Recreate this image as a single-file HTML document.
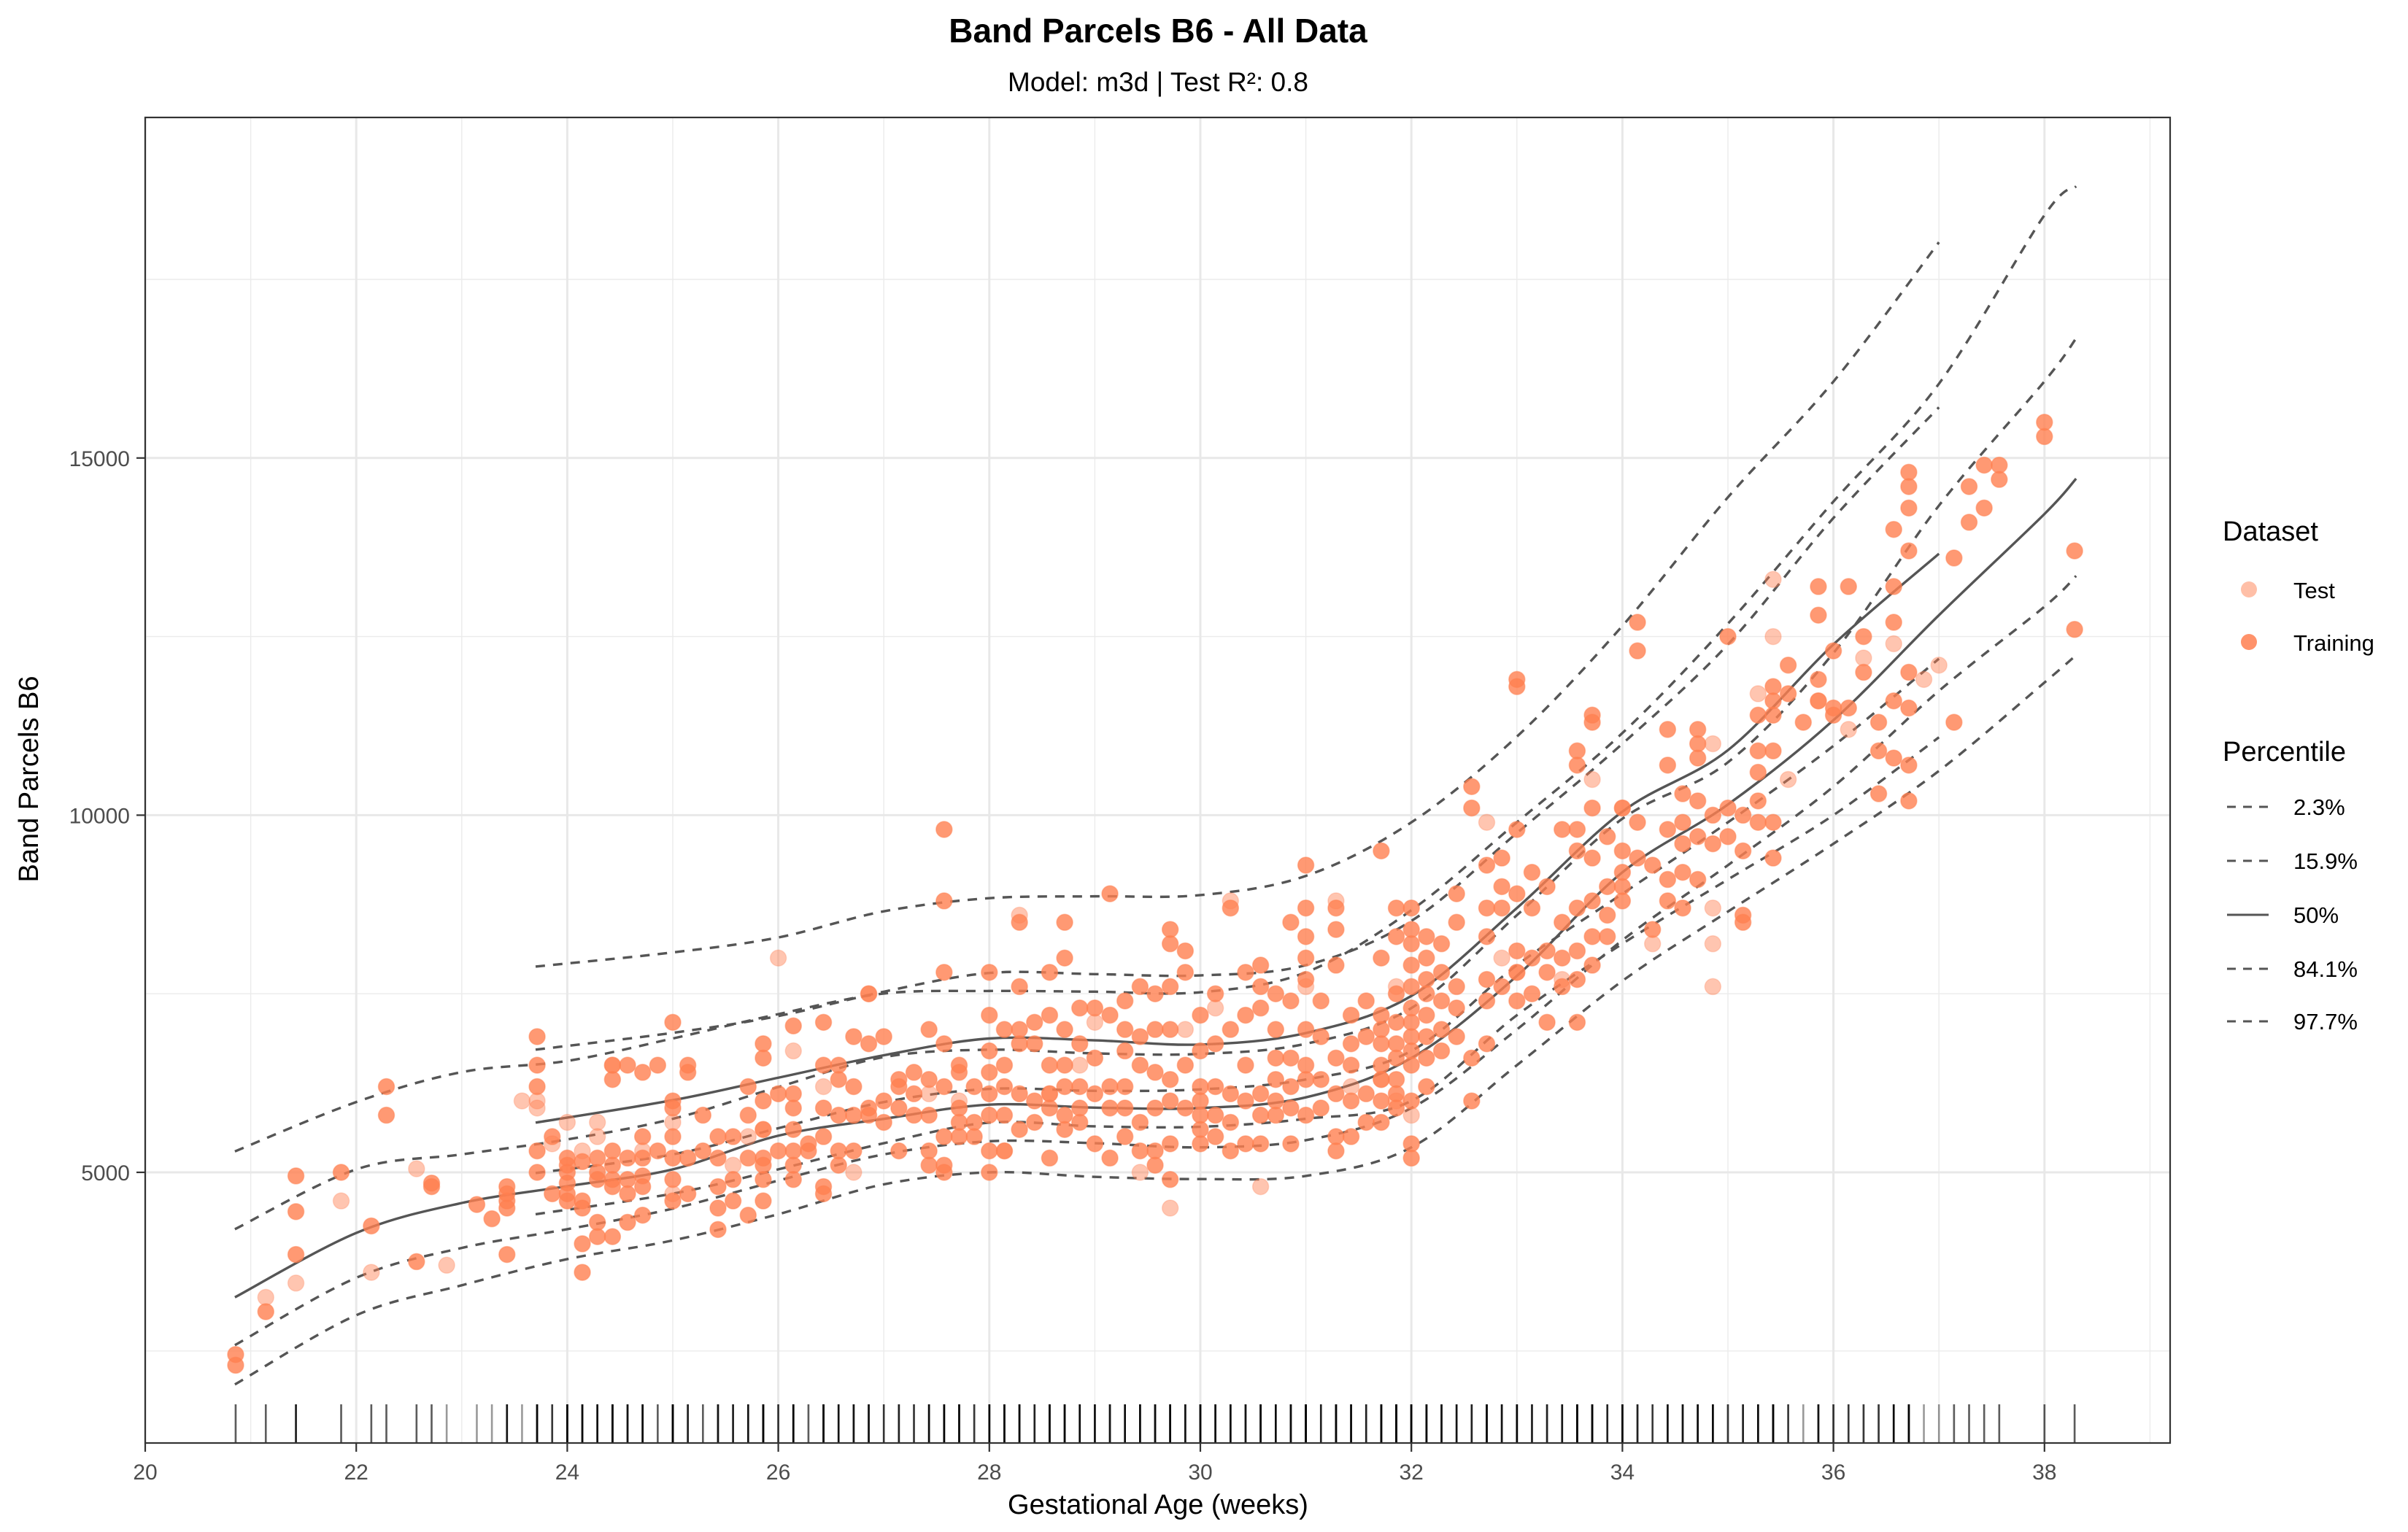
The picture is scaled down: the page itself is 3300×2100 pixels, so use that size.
<!DOCTYPE html>
<html><head><meta charset="utf-8"><style>
html,body{margin:0;padding:0;background:#fff;}
svg{display:block;font-family:"Liberation Sans",sans-serif;}
</style></head><body>
<svg id="chart" width="3300" height="2100" viewBox="0 0 3300 2100" xmlns="http://www.w3.org/2000/svg">
<rect width="3300" height="2100" fill="#fff"/>
<text x="1587" y="58" text-anchor="middle" font-size="46" font-weight="bold" fill="#000">Band Parcels B6 - All Data</text>
<text x="1587" y="125" text-anchor="middle" font-size="37" fill="#000">Model: m3d | Test R²: 0.8</text>
<g id="grid"></g>
<g id="curves"></g>
<g id="points"></g>
<g id="rug"></g>
<rect x="199" y="161" width="2775" height="1817" fill="none" stroke="#333" stroke-width="2.2"/>
<g id="axes"></g>
<text x="1587" y="2075" text-anchor="middle" font-size="38" fill="#000">Gestational Age (weeks)</text>
<text transform="translate(52,1068) rotate(-90)" text-anchor="middle" font-size="38" fill="#000">Band Parcels B6</text>
<g>
<text x="3046" y="741" font-size="38" fill="#000">Dataset</text>
<g><circle cx="3082" cy="808" r="11" fill="#FF7F50" fill-opacity="0.5"/><text x="3143" y="820" font-size="31" fill="#000">Test</text></g>
<g><circle cx="3082" cy="880" r="11" fill="#FF7F50" fill-opacity="0.85"/><text x="3143" y="892" font-size="31" fill="#000">Training</text></g>
<text x="3046" y="1043" font-size="38" fill="#000">Percentile</text>
<g><line x1="3052" x2="3109" y1="1106" y2="1106" stroke="#555" stroke-width="3" stroke-dasharray="12 10"/><text x="3143" y="1117" font-size="31">2.3%</text></g>
<g><line x1="3052" x2="3109" y1="1180" y2="1180" stroke="#555" stroke-width="3" stroke-dasharray="12 10"/><text x="3143" y="1191" font-size="31">15.9%</text></g>
<g><line x1="3052" x2="3109" y1="1254" y2="1254" stroke="#555" stroke-width="3"/><text x="3143" y="1265" font-size="31">50%</text></g>
<g><line x1="3052" x2="3109" y1="1328" y2="1328" stroke="#555" stroke-width="3" stroke-dasharray="12 10"/><text x="3143" y="1339" font-size="31">84.1%</text></g>
<g><line x1="3052" x2="3109" y1="1400" y2="1400" stroke="#555" stroke-width="3" stroke-dasharray="12 10"/><text x="3143" y="1411" font-size="31">97.7%</text></g>
</g>
</svg>
<script>
const xTicks = [20,22,24,26,28,30,32,34,36,38];
const yTicks = [5000,10000,15000];
const yMinor = [2500,7500,12500,17500];
const ageA = [20.85,22,23,24,25,26,27,28,29,30,31,32,33,34,35,36,37,38,38.3];
const a2 = [2031,3000,3419,3785,4047,4414,4832,5000,4937,4906,4950,5350,6500,7680,8650,9600,10620,11857,12240];
const a16 = [2581,3524,3942,4204,4492,4885,5251,5435,5408,5350,5450,5900,7000,8250,9300,10400,11740,12919,13349];
const a50 = [3251,4152,4571,4806,5042,5513,5749,5948,5906,5900,6050,6600,7750,9200,10150,11330,12800,14216,14711];
const a84 = [4204,5042,5251,5461,5749,6194,6613,6717,6665,6658,6800,7300,8600,9950,10740,12270,14334,16073,16675];
const a98 = [5293,5984,6403,6560,6874,7215,7503,7539,7529,7521,7800,8670,9900,11150,12680,14390,16040,18400,18803];
const ageB = [23.7,25,26,27,28,29,30,31,32,33,34,35,36,37];
const b2 = [4414,4702,5042,5408,5696,5644,5638,5750,6000,7200,8200,9100,10000,11090];
const b16 = [4990,5251,5618,5984,6168,6141,6161,6300,6700,7900,8900,9900,10970,12190];
const b50 = [5696,6010,6325,6639,6874,6848,6789,6950,7470,8700,10050,10910,12390,13660];
const b84 = [6717,6953,7188,7529,7791,7775,7757,7900,8520,9750,11000,12390,14160,15710];
const b98 = [7880,8079,8288,8654,8838,8864,8881,9150,9900,11100,12650,14450,16070,18020];
// [age in days, values]
const trainCols = [[146,[2450,2300]],[148,[3050]],[150,[4950,4450,3850]],[153,[5000]],[155,[4250]],[156,[6200,5800]],[158,[3750]],[159,[4850,4800]],[162,[4550]],[163,[4350]],[164,[4800,4700,4600,4500,3850]],[166,[6900,6500,6200,5300,5000]],[167,[4700,5500]],[168,[5200,5100,5000,4850,4700,4600]],[169,[5150,4600,4500,4000,3600]],[170,[5200,5000,4900,4300,4100]],[171,[6500,6300,5300,5100,4900,4800,4100]],[172,[6500,5200,4900,4700,4300]],[173,[6400,5500,5200,4950,4800,4400]],[174,[6500,5300]],[175,[7100,6000,5900,5500,5200,4900,4600]],[176,[6500,6400,5200,4700]],[177,[5800,5300]],[178,[5500,5200,4800,4500,4200]],[179,[5500,4900,4600]],[180,[6200,5800,5200,4400]],[181,[6800,6600,6000,5600,5200,5100,4900,4600]],[182,[6100,5300]],[183,[7050,6100,5900,5600,5300,5100,4900]],[184,[5400,5300]],[185,[7100,6500,5900,5500,4800,4700]],[186,[6500,6300,5800,5300,5100]],[187,[6900,6200,5800,5300]],[188,[7500,6800,5900,5800]],[189,[6900,6000,5700]],[190,[6300,6200,5900,5300]],[191,[6400,6100,5800]],[192,[7000,6300,5800,5300,5100]],[193,[9800,8800,7800,6800,6200,5500,5100,5000]],[194,[6500,6400,5900,5700,5500]],[195,[6200,5700,5500]],[196,[7800,7200,6700,6400,6100,5800,5300,5000]],[197,[7000,6500,6200,5800,5300]],[198,[8500,7600,7000,6800,6100,5600]],[199,[7100,6800,6000,5700]],[200,[7800,7200,6500,6100,5900,5200]],[201,[8500,8000,7000,6500,6200,5800,5600]],[202,[7300,6800,6200,5900,5700]],[203,[7300,6600,6100,5400]],[204,[8900,7200,6200,5900,5200]],[205,[7400,7000,6700,6200,5900,5500]],[206,[7600,6900,6500,5700,5300]],[207,[7500,7000,6400,5900,5300,5100]],[208,[8400,8200,7600,7000,6300,6000,5400,4900]],[209,[8100,7800,6500,5900]],[210,[7200,6700,6200,6000,5800,5600,5400]],[211,[7500,6800,6200,5800,5500]],[212,[8700,7000,6100,5700,5300]],[213,[7800,7200,6500,6000,5400]],[214,[7900,7600,7300,6100,5800,5400]],[215,[7500,7000,6600,6300,6000,5800]],[216,[8500,7400,6600,6200,5900,5400]],[217,[9300,8700,8300,8000,7700,7000,6500,6300,5800]],[218,[7400,6900,6300,5900]],[219,[8700,8400,7900,6600,6100,5500,5300]],[220,[7200,6800,6500,6000,5500]],[221,[7400,6900,6100,5700]],[222,[9500,8000,7200,7000,6800,6500,6300,6000,5700]],[223,[8700,8300,7500,7100,6800,6600,6300,6100,5900]],[224,[8700,8400,8200,7900,7600,7300,7100,6900,6700,6500,6000,5400,5200]],[225,[8300,8000,7700,7500,7200,6900,6600,6200]],[226,[8200,7800,7400,7000,6700]],[227,[8900,8500,7600,7300,6900]],[228,[10400,10100,6600,6000]],[229,[9300,8700,8300,7700,7400,6800]],[230,[9400,9000,8700,7600]],[231,[11800,11900,9800,8900,8100,7800,7400]],[232,[9200,8700,8000,7500]],[233,[9000,8100,7800,7100]],[234,[9800,8500,8000,7600]],[235,[10900,10700,9800,9500,8700,8100,7700,7100]],[236,[11400,11300,10100,9400,8800,8300,7900]],[237,[9700,9000,8600,8300]],[238,[10100,9500,9200,9000,8800]],[239,[12700,12300,9900,9400]],[240,[9300,8400]],[241,[11200,10700,9800,9100,8800]],[242,[10300,9900,9600,9200,8700]],[243,[11200,11000,10800,10200,9700,9100]],[244,[10000,9600]],[245,[12500,10100,9700]],[246,[10000,9500,8600,8500]],[247,[11400,10900,10600,10200,9900]],[248,[11800,11600,11400,10900,9900,9400]],[249,[12100,11700]],[250,[11300]],[251,[13200,12800,11900,11600]],[252,[12300,11500,11400]],[253,[13200,11500]],[254,[12500,12000]],[255,[11300,10900,10300]],[256,[14000,13200,12700,11600,10800]],[257,[14800,14600,14300,13700,12000,11500,10700,10200]],[260,[13600,11300]],[261,[14600,14100]],[262,[14900,14300]],[263,[14900,14700]],[266,[15500,15300]],[268,[13700,12600]]];
const testCols = [[148,[3250]],[150,[3450]],[153,[4600]],[155,[3600]],[158,[5050]],[160,[3700]],[165,[6000]],[166,[6000,5900]],[167,[5400]],[168,[5700]],[169,[5300]],[170,[5700,5500]],[171,[6500]],[173,[5300]],[175,[5700,4700]],[179,[5100]],[180,[5500]],[181,[5600]],[182,[8000]],[183,[6700]],[185,[6200]],[187,[5000]],[188,[7500]],[192,[6100]],[194,[6000]],[197,[5300]],[198,[8600]],[200,[6100]],[202,[6500]],[203,[7100]],[206,[5000]],[208,[4500]],[209,[7000]],[211,[7300]],[212,[8800]],[214,[4800]],[217,[7600]],[219,[8800]],[220,[6200]],[222,[6300]],[223,[7600,6000]],[224,[5800]],[229,[9900]],[230,[8000]],[231,[7800]],[234,[7700]],[236,[10500]],[238,[10100]],[240,[8200]],[244,[11000,8700,8200,7600]],[247,[11700]],[248,[13300,12500]],[249,[10500]],[251,[11600]],[253,[11200]],[254,[12200]],[256,[12400]],[258,[11900]],[259,[12100]]];

const NS="http://www.w3.org/2000/svg";
const X=v=>199+(v-20)*144.6;
const Y=v=>1607-(v-5000)*489.6/5000;
function mk(tag,attrs,parent){const e=document.createElementNS(NS,tag);for(const k in attrs)e.setAttribute(k,attrs[k]);parent.appendChild(e);return e;}
const grid=document.getElementById('grid'),axes=document.getElementById('axes');
for(let w=21;w<=39;w+=2){const l=mk('line',{x1:X(w),x2:X(w),y1:161,y2:1978,stroke:'#ebebeb','stroke-width':1.4},grid);

}
yMinor.forEach(v=>{const l=mk('line',{x1:199,x2:2974,y1:Y(v),y2:Y(v),stroke:'#ebebeb','stroke-width':1.4},grid);

});
xTicks.forEach(v=>{const l=mk('line',{x1:X(v),x2:X(v),y1:161,y2:1978,stroke:'#e8e8e8','stroke-width':3},grid);


const t=mk('line',{x1:X(v),x2:X(v),y1:1978,y2:1990,stroke:'#333','stroke-width':2.2},axes);


const tx=mk('text',{x:X(v),y:2028,'text-anchor':'middle','font-size':30,fill:'#4d4d4d'},axes);tx.textContent=v;

});
yTicks.forEach(v=>{const l=mk('line',{x1:199,x2:2974,y1:Y(v),y2:Y(v),stroke:'#e8e8e8','stroke-width':3},grid);


const t=mk('line',{x1:187,x2:199,y1:Y(v),y2:Y(v),stroke:'#333','stroke-width':2.2},axes);


const tx=mk('text',{x:178,y:Y(v)+11,'text-anchor':'end','font-size':30,fill:'#4d4d4d'},axes);tx.textContent=v;

});
function smooth(xs,ys){const p=xs.map((x,i)=>[X(x),Y(ys[i])]);let d='M'+p[0][0]+','+p[0][1];
for(let i=0;i<p.length-1;i++){const p0=p[i-1]||p[i],p1=p[i],p2=p[i+1],p3=p[i+2]||p2;
const c1=[p1[0]+(p2[0]-p0[0])/6,p1[1]+(p2[1]-p0[1])/6],c2=[p2[0]-(p3[0]-p1[0])/6,p2[1]-(p3[1]-p1[1])/6];
d+=' C'+c1+' '+c2+' '+p2;}return d;}
const curves=document.getElementById('curves');
[[ageA,a2,1,'a-p2'],[ageA,a16,1,'a-p16'],[ageA,a50,0,'a-p50'],[ageA,a84,1,'a-p84'],[ageA,a98,1,'a-p98'],
 [ageB,b2,1,'b-p2'],[ageB,b16,1,'b-p16'],[ageB,b50,0,'b-p50'],[ageB,b84,1,'b-p84'],[ageB,b98,1,'b-p98']].forEach(c=>{
 const p=mk('path',{d:smooth(c[0],c[1]),fill:'none',stroke:'#555','stroke-width':3.4},curves);
 if(c[2])p.setAttribute('stroke-dasharray','13 11');
 
 });
const pts=document.getElementById('points'),rug=document.getElementById('rug');
function drawCols(cols,op,name){cols.forEach(c=>{const a=c[0]/7;c[1].forEach(v=>{
 const e=mk('circle',{cx:X(a),cy:Y(v),r:11,fill:'#FF7F50','fill-opacity':op,stroke:'#FF7F50','stroke-opacity':op*0.6,'stroke-width':1.5},pts);
 
 
 const r=mk('line',{x1:X(a),x2:X(a),y1:1925,y2:1978,stroke:'#000','stroke-opacity':0.4,'stroke-width':2.6},rug);
 
 });});}
drawCols(testCols,0.45,'test-point');
drawCols(trainCols,0.8,'training-point');
</script>
</body></html>
